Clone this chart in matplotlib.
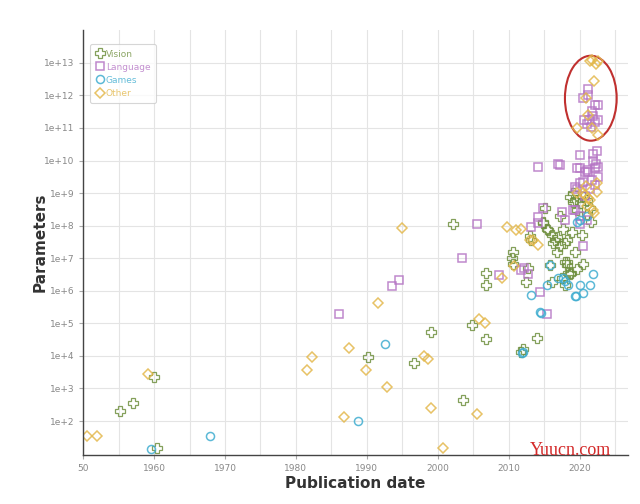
import matplotlib
matplotlib.use("Agg")
import matplotlib.pyplot as plt
from matplotlib.patches import Ellipse
from matplotlib.ticker import FixedLocator, MultipleLocator

# --- data (publication year, parameter count) --------------------------------
vision_year = [1955.2, 1957.0, 1960.0, 1960.4, 1990.1, 1996.7, 1999.0, 2002.1,
               2003.6, 2004.8, 2006.8, 2006.8, 2006.8, 2010.4, 2010.6, 2010.6,
               2011.8, 2012.0, 2012.5, 2012.7, 2013.0, 2013.2, 2014.0, 2014.8,
               2014.9, 2015.1, 2015.5, 2015.8, 2016.1, 2016.1, 2016.2, 2016.8,
               2017.2, 2017.9, 2017.9, 2018.2, 2018.2, 2018.2, 2018.3, 2018.6,
               2018.6, 2018.8, 2018.9, 2019.0, 2019.3, 2019.6, 2019.7, 2020.0,
               2020.5, 2020.5, 2021.0, 2021.0, 2021.4, 2017.5, 2017.9, 2016.8,
               2015.4, 2017.6, 2016.5, 2019.3, 2020.3, 2021.6, 2019.0, 2017.2]
vision_params = [2.1e2, 3.7e2, 2.3e3, 1.5e1, 9.5e3, 5.9e3, 5.6e4, 1.1e8,
                 4.3e2, 9.1e4, 3.4e4, 1.5e6, 3.4e6, 1.0e7, 6.8e6, 1.5e7,
                 1.3e4, 1.6e4, 1.9e6, 5.1e6, 4.9e7, 3.7e7, 3.6e4, 1.3e8,
                 1.2e8, 3.5e8, 7.6e7, 6.3e6, 5.2e7, 1.8e6, 3.0e7, 4.6e7,
                 2.3e7, 3.0e7, 7.4e6, 3.7e7, 6.3e6, 7.4e6, 3.6e6, 7.8e8,
                 3.2e6, 3.6e6, 6.2e7, 5.5e8, 6.3e8, 3.1e8, 4.8e6, 5.1e8,
                 7.8e8, 6.8e6, 6.3e8, 2.2e8, 3.5e8, 2.5e6, 1.5e6, 1.6e7,
                 7.9e7, 7.9e7, 3.5e7, 1.6e7, 5.0e7, 1.3e8, 1.0e9, 2.0e8]

language_year = [1986.1, 1993.6, 1994.5, 2003.4, 2005.6, 2008.7, 2011.8, 2012.7,
                 2012.1, 2013.1, 2014.1, 2014.4, 2015.4, 2014.9, 2014.1, 2014.1,
                 2016.9, 2017.2, 2017.5, 2017.9, 2019.0, 2019.3, 2019.6, 2019.7,
                 2020.0, 2020.0, 2020.0, 2020.0, 2020.5, 2020.5, 2020.7, 2021.0,
                 2021.2, 2021.9, 2022.1, 2022.1, 2022.4, 2022.6, 2022.6, 2021.0,
                 2019.3, 2020.0, 2021.4, 2020.8, 2021.7, 2022.3, 2021.9,
                 2021.2, 2021.2, 2020.45, 2022.1, 2022.6, 2020.6, 2021.3, 2021.9,
                 2022.1, 2022.6, 2021.6, 2021.0, 2021.8]
language_params = [2.0e5, 1.4e6, 2.2e6, 1.0e7, 1.1e8, 3.0e6, 4.5e6, 3.2e6,
                   5.1e6, 9.3e7, 6.5e9, 9.5e5, 1.9e5, 3.5e8, 1.9e8, 1.2e8,
                   7.9e9, 7.4e9, 2.7e8, 1.5e8, 3.1e8, 1.5e9, 1.3e9, 6.0e9,
                   1.5e10, 6.0e9, 2.1e9, 1.1e8, 2.3e7, 2.2e9, 4.3e9, 5.2e9,
                   4.3e9, 1.0e10, 1.8e9, 6.0e9, 1.9e10, 6.5e9, 3.2e9, 1.5e8,
                   3.1e8, 2.0e8, 1.3e9, 7.9e8, 2.5e9, 7.9e9, 1.6e10,
                   1.6e12, 1.0e12, 8.5e11, 5.1e11, 5.1e11, 1.8e11, 1.8e11, 2.3e11,
                   1.5e11, 1.8e11, 1.1e11, 1.3e11, 3.2e11]

games_year = [1959.6, 1967.9, 1988.7, 1992.5, 2011.9, 2012.0, 2013.2, 2014.4,
              2015.4, 2015.8, 2016.9, 2017.6, 2018.3, 2019.3, 2019.5, 2020.0,
              2020.5, 2021.4, 2021.9, 2020.0, 2019.6, 2021.0, 2018.0, 2014.5]
games_params = [1.4e1, 3.6e1, 1.0e2, 2.4e4, 1.2e4, 1.3e4, 7.6e5, 2.3e5,
                1.5e6, 6.3e6, 2.5e6, 2.5e6, 1.5e6, 7.1e5, 7.1e5, 1.5e6,
                8.7e5, 1.5e6, 3.2e6, 1.5e8, 1.3e8, 2.0e8, 2.0e6, 2.1e5]

other_year = [1950.5, 1952.0, 1959.2, 1981.6, 1982.3, 1986.8, 1987.5, 1989.9,
              1991.5, 1992.8, 1994.9, 1998.0, 1998.6, 1999.1, 2000.7, 2005.6,
              2005.8, 2006.6, 2009.0, 2009.7, 2010.8, 2011.0, 2011.7, 2013.0,
              2013.4, 2014.1, 2020.7, 2021.2, 2021.4, 2021.9, 2022.4, 2022.4,
              2020.5, 2020.9, 2019.7, 2021.0, 2022.0,
              2021.7, 2022.3, 2021.4, 2022.6, 2022.0, 2020.9, 2019.7, 2022.6,
              2021.7, 2021.2]
other_params = [3.6e1, 3.6e1, 2.7e3, 3.8e3, 9.5e3, 1.3e2, 1.7e4, 3.8e3,
                4.1e5, 1.1e3, 8.7e7, 1.0e4, 7.8e3, 2.6e2, 1.5e1, 1.6e2,
                1.4e5, 1.0e5, 2.5e6, 9.3e7, 5.9e6, 7.6e7, 8.1e7, 3.7e7,
                3.7e7, 2.6e7, 8.9e8, 7.2e8, 6.3e8, 3.1e8, 1.1e9, 2.1e9,
                1.0e9, 1.6e9, 1.0e9, 4.0e8, 2.5e8,
                1.2e13, 9.3e12, 1.1e13, 1.15e13, 2.8e12, 8.5e11, 1.0e11, 6.2e10,
                1.0e11, 2.5e11]

series = [
    ("Vision", vision_year, vision_params, "#6f8f3e", "P"),
    ("Language", language_year, language_params, "#b474c4", "s"),
    ("Games", games_year, games_params, "#3fadd0", "o"),
    ("Other", other_year, other_params, "#e3b84b", "D"),
]

decades = [1e2, 1e3, 1e4, 1e5, 1e6, 1e7, 1e8, 1e9, 1e10, 1e11, 1e12, 1e13]
decade_labels = ["1e+2", "1e+3", "1e+4", "1e+5", "1e+6", "1e+7", "1e+8",
                 "1e+9", "1e+10", "1e+11", "1e+12", "1e+13"]
year_ticks = [1950, 1960, 1970, 1980, 1990, 2000, 2010, 2020]
year_labels = ["50", "1960", "1970", "1980", "1990", "2000", "2010", "2020"]

# --- figure ------------------------------------------------------------------
fig = plt.figure(figsize=(6.4, 5.04), dpi=100)
ax = fig.add_axes([0.13, 0.097, 0.851, 0.843])

for name, xs, ys, color, marker in series:
    ms = 7.0 if marker == "P" else (5.0 if marker == "D" else 5.8)
    mew = 0.9 if marker == "P" else 1.1
    ax.plot(xs, ys, linestyle="none", marker=marker, markersize=ms,
            markerfacecolor="none", markeredgecolor=color,
            markeredgewidth=mew, alpha=0.85, label=name)

ax.set_yscale("log")
ax.set_xlim(1950, 2026.8)
ax.set_ylim(9, 1e14)

ax.yaxis.set_major_locator(FixedLocator(decades))
ax.set_yticklabels(decade_labels)
ax.yaxis.set_minor_locator(FixedLocator([]))
ax.xaxis.set_major_locator(FixedLocator(year_ticks))
ax.set_xticklabels(year_labels)
ax.xaxis.set_minor_locator(MultipleLocator(5))

ax.grid(True, which="major", color="#e4e4e4", linewidth=0.8)
ax.grid(True, which="minor", axis="x", color="#e4e4e4", linewidth=0.8)
ax.set_axisbelow(True)

ax.tick_params(axis="both", which="major", labelsize=6.5, labelcolor="#888888",
               color="#aaaaaa", length=3)
ax.tick_params(axis="x", which="minor", length=0)
for side in ("top", "right"):
    ax.spines[side].set_visible(False)
for side in ("left", "bottom"):
    ax.spines[side].set_color("#444444")
    ax.spines[side].set_linewidth(1.0)

ax.set_xlabel("Publication date", fontsize=11, fontweight="bold",
              color="#333333", labelpad=2)
ax.set_ylabel("Parameters", fontsize=11, fontweight="bold", color="#333333")
ax.yaxis.set_label_coords(-0.065, 0.5)

leg = ax.legend(loc="upper left", fontsize=6.5, frameon=True,
                handletextpad=0.1, handlelength=1.0, borderpad=0.6,
                labelspacing=0.45, bbox_to_anchor=(0.005, 0.978))
leg.get_frame().set_edgecolor("#cccccc")
leg.get_frame().set_linewidth(0.8)
for text, (_, _, _, color, _) in zip(leg.get_texts(), series):
    text.set_color(color)
    text.set_alpha(0.8)

ax.add_patch(Ellipse((0.932, 0.84), 0.095, 0.2, transform=ax.transAxes,
                     fill=False, edgecolor="#c0302f", linewidth=1.5,
                     clip_on=False))

fig.text(0.828, 0.107, "Yuucn.com", fontsize=13, color="#d42a2a",
         family="Liberation Serif", ha="left", va="center")

plt.savefig("out.png", dpi=100)
